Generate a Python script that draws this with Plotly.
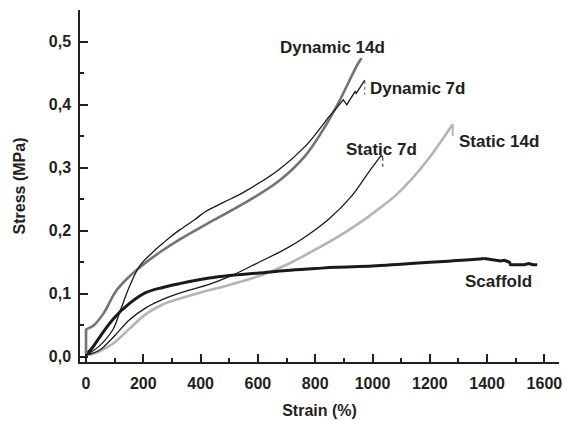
import plotly.graph_objects as go

# ---- data (strain %, stress MPa) ----
dyn14_strain = [0, 0, 8, 25, 60, 106, 153, 210, 268, 326, 442, 557, 673, 765, 835, 881, 950, 962]
dyn14_stress = [0.003, 0.043, 0.045, 0.049, 0.068, 0.105, 0.128, 0.150, 0.169, 0.186, 0.216, 0.245, 0.279, 0.319, 0.366, 0.403, 0.466, 0.474]

dyn7_strain = [0, 20, 49, 95, 118, 153, 187, 233, 268, 291, 326, 380, 419, 480, 557, 673, 765, 823, 846, 869]
dyn7_stress = [0.003, 0.008, 0.018, 0.044, 0.071, 0.113, 0.144, 0.166, 0.180, 0.189, 0.201, 0.218, 0.231, 0.245, 0.263, 0.297, 0.334, 0.366, 0.380, 0.392]
dyn7_end_strain = [869, 898, 910, 930, 939, 943, 968, 973]
dyn7_end_stress = [0.392, 0.408, 0.400, 0.414, 0.421, 0.418, 0.437, 0.439]
dyn7_drop_strain = [973, 973]
dyn7_drop_stress = [0.438, 0.416]

st7_strain = [0, 20, 49, 95, 153, 210, 268, 326, 430, 500, 604, 700, 754, 846, 927, 985, 1031]
st7_stress = [0.003, 0.005, 0.011, 0.031, 0.059, 0.078, 0.091, 0.101, 0.115, 0.127, 0.150, 0.172, 0.187, 0.218, 0.255, 0.292, 0.320]
st7_end_strain = [1031, 1036]
st7_end_stress = [0.320, 0.316]
st7_drop_strain = [1036, 1036]
st7_drop_stress = [0.316, 0.300]

st14_strain = [0, 20, 49, 95, 153, 210, 268, 326, 400, 500, 604, 700, 800, 870, 930, 985, 1020, 1083, 1135, 1205, 1280]
st14_stress = [0.003, 0.004, 0.009, 0.021, 0.045, 0.068, 0.083, 0.092, 0.102, 0.114, 0.128, 0.146, 0.170, 0.188, 0.205, 0.222, 0.234, 0.257, 0.281, 0.320, 0.369]
st14_drop_strain = [1280, 1280]
st14_drop_stress = [0.369, 0.350]

scaf_strain = [0, 20, 49, 95, 153, 210, 268, 326, 430, 500, 604, 700, 800, 870, 1000, 1100, 1200, 1274, 1340, 1390]
scaf_stress = [0.003, 0.013, 0.032, 0.060, 0.085, 0.102, 0.110, 0.116, 0.125, 0.129, 0.133, 0.137, 0.140, 0.142, 0.144, 0.147, 0.150, 0.152, 0.154, 0.156]
scaf_tail_strain = [1390, 1405, 1420, 1447, 1460, 1470, 1478, 1482, 1500, 1530, 1545, 1560, 1575]
scaf_tail_stress = [0.156, 0.155, 0.154, 0.152, 0.153, 0.151, 0.150, 0.146, 0.146, 0.146, 0.148, 0.146, 0.146]

labels = ["Dynamic 14d", "Dynamic 7d", "Static 7d", "Static 14d", "Scaffold"]
label_strain = [860, 1157, 1030, 1443, 1439]
label_stress = [0.491, 0.426, 0.329, 0.342, 0.120]

x_ticks = [0, 200, 400, 600, 800, 1000, 1200, 1400, 1600]
y_ticks = [0.0, 0.1, 0.2, 0.3, 0.4, 0.5]

FONT = "Liberation Sans, Arial, sans-serif"
TXT = "#231f20"
BLACK = "#1a1a1a"
DARKGRAY = "#737373"
LIGHTGRAY = "#b4b4b4"

fig = go.Figure()


def add_line(xs, ys, color, width, shape="spline", dash="solid", smoothing=1.0):
    line = dict(color=color, width=width, dash=dash, shape=shape)
    if shape == "spline":
        line["smoothing"] = smoothing
    fig.add_trace(go.Scatter(x=xs, y=ys, mode="lines", line=line, hoverinfo="skip"))


# Static 14d
add_line(st14_strain, st14_stress, LIGHTGRAY, 2.6)
add_line(st14_drop_strain, st14_drop_stress, LIGHTGRAY, 2, shape="linear")
# Scaffold
add_line(scaf_strain, scaf_stress, BLACK, 3)
add_line(scaf_tail_strain, scaf_tail_stress, BLACK, 3, shape="linear")
# Static 7d
add_line(st7_strain, st7_stress, BLACK, 1.3)
add_line(st7_end_strain, st7_end_stress, BLACK, 1.3, shape="linear")
add_line(st7_drop_strain, st7_drop_stress, BLACK, 1, shape="linear", dash="dot")
# Dynamic 14d: vertical start, then smooth
add_line(dyn14_strain[:3], dyn14_stress[:3], DARKGRAY, 2.6, shape="linear")
add_line(dyn14_strain[2:], dyn14_stress[2:], DARKGRAY, 2.6)
# Dynamic 7d
add_line(dyn7_strain, dyn7_stress, BLACK, 1.3)
add_line(dyn7_end_strain, dyn7_end_stress, BLACK, 1.3, shape="linear")
add_line(dyn7_drop_strain, dyn7_drop_stress, "#555555", 1, shape="linear", dash="dot")

for t, xv, yv in zip(labels, label_strain, label_stress):
    fig.add_annotation(x=xv, y=yv, xref="x", yref="y", text=t, showarrow=False,
                       font=dict(family=FONT, size=17, color=TXT, weight="bold"))

axis_common = dict(showline=True, linecolor=TXT, linewidth=1.5, ticks="inside",
                   tickcolor=TXT, tickwidth=1.5, ticklen=8, showgrid=False, zeroline=False,
                   tickfont=dict(family=FONT, size=16, color=TXT, weight="bold"),
                   mirror=False)

fig.update_layout(
    width=566, height=421,
    margin=dict(l=80, r=4, t=10, b=58),
    paper_bgcolor="white", plot_bgcolor="white",
    showlegend=False,
    separators=",.",
    xaxis=dict(range=[-21, 1651], tickvals=x_ticks, ticklabelstandoff=6,
               minor=dict(ticks="inside", dtick=100, tick0=0, ticklen=4.5, tickwidth=1.5, tickcolor=TXT),
               title=dict(text="Strain (%)", standoff=14,
                          font=dict(family=FONT, size=16, color=TXT, weight="bold")),
               **axis_common),
    yaxis=dict(range=[-0.0084, 0.5505], tickvals=y_ticks, tickformat=".1f", ticklabelstandoff=4,
               minor=dict(ticks="inside", dtick=0.05, tick0=0, ticklen=4.5, tickwidth=1.5, tickcolor=TXT),
               title=dict(text="Stress (MPa)", standoff=19,
                          font=dict(family=FONT, size=16, color=TXT, weight="bold")),
               **axis_common),
)

fig.write_html("out.html")
